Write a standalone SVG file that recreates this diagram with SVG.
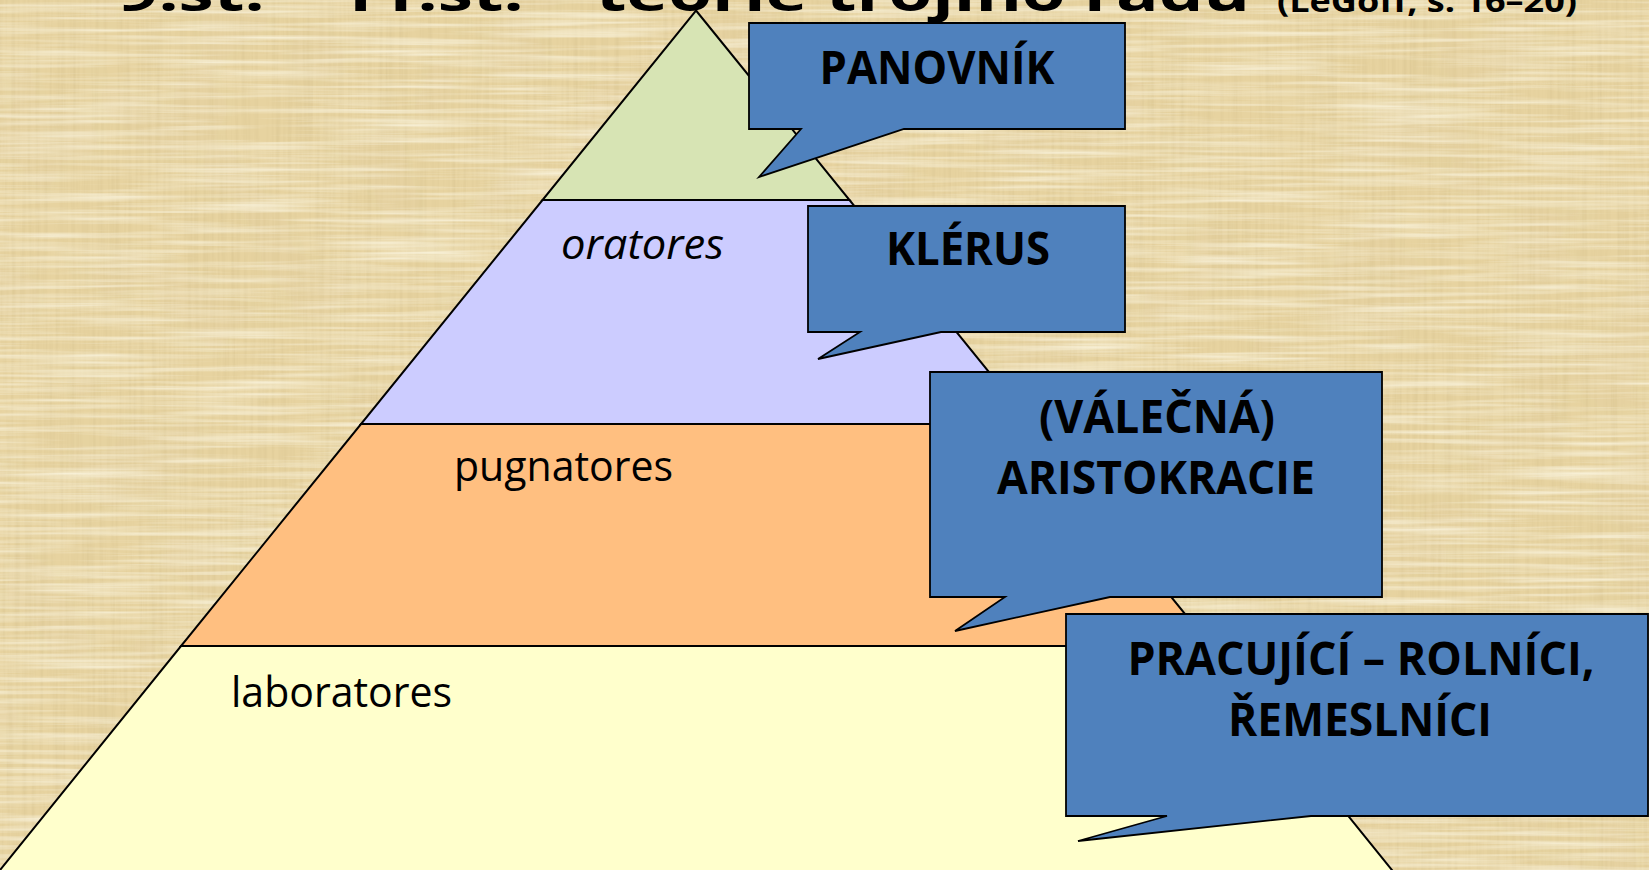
<svg xmlns="http://www.w3.org/2000/svg" width="1649" height="870" viewBox="0 0 1649 870">
<style>
.tier{stroke:#000;stroke-width:2;stroke-linejoin:miter}
.callout{fill:#4F81BD;stroke:#000;stroke-width:1.8;stroke-linejoin:miter}
.ctext{font-family:"Open Sans","Liberation Sans",sans-serif;font-weight:bold;font-size:46px;fill:#000;text-anchor:middle}
.ltext{font-family:"Open Sans","Liberation Sans",sans-serif;font-size:42px;fill:#000}
.title{font-family:"Open Sans","Liberation Sans",sans-serif;font-weight:bold;fill:#000}
</style>
<defs>
<filter id="fibV" x="0" y="0" width="100%" height="100%">
<feTurbulence type="fractalNoise" baseFrequency="0.25 0.006" numOctaves="3" seed="4"/>
<feColorMatrix type="matrix" values="0 0 0 0 0.72  0 0 0 0 0.58  0 0 0 0 0.30  1.6 0 0 0 -0.62"/>
</filter>
<filter id="fibH" x="0" y="0" width="100%" height="100%">
<feTurbulence type="fractalNoise" baseFrequency="0.006 0.22" numOctaves="3" seed="9"/>
<feColorMatrix type="matrix" values="0 0 0 0 0.96  0 0 0 0 0.91  0 0 0 0 0.74  1.6 0 0 0 -0.6"/>
</filter>
<filter id="blotch" x="0" y="0" width="100%" height="100%">
<feTurbulence type="fractalNoise" baseFrequency="0.012" numOctaves="2" seed="2"/>
<feColorMatrix type="matrix" values="0 0 0 0 0.78  0 0 0 0 0.64  0 0 0 0 0.36  1.4 0 0 0 -0.55"/>
</filter>
</defs>
<g id="background">
<rect x="0" y="0" width="1649" height="870" fill="#E7D3A0"/>
<rect x="0" y="0" width="1649" height="870" filter="url(#blotch)"/>
<rect x="0" y="0" width="1649" height="870" filter="url(#fibV)"/>
<rect x="0" y="0" width="1649" height="870" filter="url(#fibH)"/>
</g>
<g id="title">
<text class="title" x="118" y="11" font-size="50" textLength="1132" lengthAdjust="spacingAndGlyphs">9.st. – 11.st. – teorie trojího řádu</text>
<text class="title" x="1277" y="12" font-size="30" textLength="300" lengthAdjust="spacingAndGlyphs">(LeGoff, s. 16–20)</text>
</g>
<g id="pyramid">
<g id="tier-laboratores">
<polygon class="tier" fill="#FFFFCC" points="181,646 1211,646 1400,880 -8,880"/>
<text class="ltext" x="231" y="707" textLength="221" lengthAdjust="spacingAndGlyphs">laboratores</text>
</g>
<g id="tier-pugnatores">
<polygon class="tier" fill="#FFBF80" points="361,424 1031,424 1211,646 181,646"/>
<text class="ltext" x="454" y="481" textLength="219" lengthAdjust="spacingAndGlyphs">pugnatores</text>
</g>
<g id="tier-oratores">
<polygon class="tier" fill="#CCCCFF" points="542.5,200 849.5,200 1031,424 361,424"/>
<text class="ltext" x="561" y="259" font-style="italic" textLength="163" lengthAdjust="spacingAndGlyphs">oratores</text>
</g>
<g id="tier-top">
<polygon class="tier" fill="#D7E4B4" points="696,10.5 849.5,200 542.5,200"/>
</g>
</g>
<g id="callout-panovnik">
<path class="callout" d="M749,23 H1125 V129 H904 L759,177 L801,129 H749 Z"/>
<text class="ctext" x="937" y="84" textLength="235" lengthAdjust="spacingAndGlyphs">PANOVNÍK</text>
</g>
<g id="callout-klerus">
<path class="callout" d="M808,206 H1125 V332 H941 L818,359 L860,332 H808 Z"/>
<text class="ctext" x="968" y="265" textLength="164" lengthAdjust="spacingAndGlyphs">KLÉRUS</text>
</g>
<g id="callout-aristokracie">
<path class="callout" d="M930,372 H1382 V597 H1110 L955,631 L1005,597 H930 Z"/>
<text class="ctext" x="1157" y="433" textLength="236" lengthAdjust="spacingAndGlyphs">(VÁLEČNÁ)</text>
<text class="ctext" x="1156" y="494" textLength="318" lengthAdjust="spacingAndGlyphs">ARISTOKRACIE</text>
</g>
<g id="callout-pracujici">
<path class="callout" d="M1066,614 H1648 V816 H1311 L1078,841 L1167,816 H1066 Z"/>
<text class="ctext" x="1361" y="675" textLength="467" lengthAdjust="spacingAndGlyphs">PRACUJÍCÍ – ROLNÍCI,</text>
<text class="ctext" x="1360" y="736" textLength="264" lengthAdjust="spacingAndGlyphs">ŘEMESLNÍCI</text>
</g>
<g id="connectors"/>
</svg>
